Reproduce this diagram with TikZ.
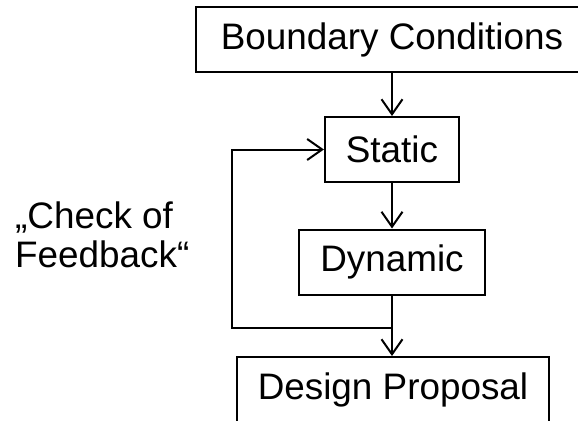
\documentclass[tikz,border=0pt]{standalone}
\usepackage{fontspec}
\setmainfont{Liberation Sans}
\usetikzlibrary{arrows.meta}

\begin{document}
\begin{tikzpicture}[x=1bp, y=-1bp,
    >={Straight Barb[length=15bp, width=21bp]},
    stage/.style={draw, line width=2bp, minimum height=65bp, inner xsep=21bp,
        font=\fontsize{37}{39}\selectfont},
    flow/.style={->, line width=2bp}]
    \useasboundingbox (0, 0) rectangle (578, 420);

    % Stufen
    \node[stage, minimum width=392bp] (bound) at (392, 39.5) {Boundary Conditions};
    \node[stage] (static) at (392, 149.5) {Static};
    \node[stage] (dyn) at (392, 262) {Dynamic};
    \node[stage] (design) at (393, 389.5) {Design Proposal};

    % Text links
    \node[anchor=west, inner sep=0pt, align=left, font=\fontsize{37}{39}\selectfont]
        (check) at (15, 235) {„Check of\\Feedback“};

    % Pfeile
    \draw[flow] (bound) -- (static);
    \draw[flow] (static) -- (dyn);
    \draw[flow] (dyn.south) -- (dyn.south |- design.north);

    % Rueckfuehrung
    \coordinate (fb) at (dyn.south |- 0, 328);
    \draw[flow] (fb) -- (232, 328) |- (static.west);
\end{tikzpicture}
\end{document}
